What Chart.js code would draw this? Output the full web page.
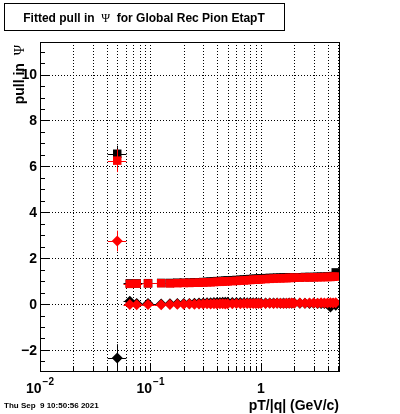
<!DOCTYPE html>
<html>
<head>
<meta charset="utf-8">
<title>Fitted pull in Psi</title>
<script src="https://cdn.jsdelivr.net/npm/chart.js@4.4.0/dist/chart.umd.min.js"></script>
<style>
    html, body { margin: 0; padding: 0; background: #fff; }
    canvas { display: block; }
</style>
</head>
<body>
<canvas id="chart" width="400" height="414"></canvas>
<script>
// Bin centres in pT/|q| (GeV/c)
const pT = [0.05, 0.065, 0.075, 0.095, 0.125, 0.15, 0.175, 0.2, 0.225, 0.25, 0.275, 0.3, 0.325, 0.35, 0.375, 0.4,
    0.425, 0.45, 0.475, 0.5, 0.55, 0.6, 0.65, 0.7, 0.75, 0.8, 0.85, 0.9, 0.95, 1.0, 1.1, 1.2, 1.3, 1.4, 1.5, 1.6,
    1.7, 1.8, 1.9, 2.0, 2.25, 2.5, 2.75, 3.0, 3.25, 3.5, 3.75, 4.0, 4.25, 4.5, 4.75];

// Fitted values
const blackSquares = [6.55, 0.90, 0.90, 0.91, 0.92, 0.92, 0.93, 0.93, 0.94, 0.95, 0.95, 0.96, 0.97, 0.98, 0.99, 1.00,
    1.00, 1.01, 1.02, 1.03, 1.04, 1.05, 1.06, 1.07, 1.08, 1.09, 1.10, 1.10, 1.11, 1.12, 1.13, 1.14, 1.14, 1.15, 1.15, 1.16,
    1.16, 1.16, 1.17, 1.17, 1.17, 1.18, 1.18, 1.18, 1.19, 1.19, 1.19, 1.20, 1.20, 1.22, 1.38];
const redSquares = [6.25, 0.88, 0.89, 0.90, 0.91, 0.90, 0.91, 0.92, 0.92, 0.93, 0.93, 0.94, 0.95, 0.95, 0.96, 0.97,
    0.97, 0.98, 0.99, 0.99, 1.00, 1.01, 1.02, 1.03, 1.04, 1.05, 1.06, 1.06, 1.07, 1.08, 1.09, 1.10, 1.11, 1.12, 1.12, 1.13,
    1.13, 1.14, 1.14, 1.15, 1.15, 1.16, 1.16, 1.17, 1.17, 1.17, 1.18, 1.18, 1.18, 1.19, 1.20];
const blackDiamonds = [-2.35, 0.12, 0.03, 0.02, 0.00, 0.01, 0.02, 0.03, 0.03, 0.04, 0.05, 0.05, 0.06, 0.06, 0.07, 0.07,
    0.07, 0.08, 0.08, 0.08, 0.07, 0.07, 0.07, 0.06, 0.06, 0.06, 0.06, 0.05, 0.05, 0.05, 0.05, 0.05, 0.05, 0.05, 0.04, 0.05,
    0.04, 0.05, 0.04, 0.05, 0.04, 0.04, 0.03, 0.04, 0.03, 0.03, 0.02, 0.00, -0.13, 0.02, -0.05];
const redDiamonds = [2.75, -0.02, -0.03, -0.02, -0.03, -0.02, -0.01, -0.01, 0.00, -0.01, 0.00, 0.00, 0.01, 0.00, 0.01, 0.00,
    0.01, 0.01, 0.00, 0.01, 0.01, 0.02, 0.01, 0.02, 0.02, 0.02, 0.03, 0.02, 0.03, 0.03, 0.03, 0.04, 0.03, 0.04, 0.04, 0.03,
    0.04, 0.04, 0.05, 0.04, 0.05, 0.04, 0.05, 0.05, 0.04, 0.06, 0.05, 0.05, 0.06, 0.05, 0.06];

// Only the first bin has errors large enough to see
const firstErrY = [0.35, 0.5, 0.6, 0.45];   // blackSq, redSq, blackDia, redDia
const firstBinEdges = [0.041, 0.0605];

// Axes
const yTicks = [-2, 0, 2, 4, 6, 8, 10];
const yTickLabels = ['\u22122', '0', '2', '4', '6', '8', '10'];
const xDecades = [0.01, 0.1, 1];
const xDecadeBase = ['10', '10', '1'];
const xDecadeExp = ['\u22122', '\u22121', ''];
const xMin = 0.01, xMax = 5.19, yMin = -2.96, yMax = 11.42;

const titleParts = [['Fitted pull in  ', 'sans'], ['\u03A8', 'serif'], ['  for Global Rec Pion EtapT', 'sans']];
const yTitleParts = [['pull in  ', 'sans'], ['\u03A8', 'serif']];
const xTitle = 'pT/|q| (GeV/c)';
const dateStamp = 'Thu Sep  9 10:50:56 2021';

const SANS = '"Liberation Sans", Arial, sans-serif';
const SERIF = '"Liberation Serif", "DejaVu Serif", serif';

function toPoints(values) {
    return values.map((v, i) => ({ x: pT[i], y: v }));
}

// bin edges: first bin explicit, the others half way (in log) to the neighbours
function binEdges(i) {
    if (i === 0) return firstBinEdges;
    const lo = Math.sqrt(pT[i - 1] * pT[i]);
    const hi = i < pT.length - 1 ? Math.sqrt(pT[i] * pT[i + 1]) : pT[i] * pT[i] / lo;
    return [lo, hi];
}

function partsWidth(ctx, parts, size) {
    let w = 0;
    parts.forEach(p => {
        ctx.font = (p[1] === 'sans' ? 'bold ' + size + 'px ' + SANS : size + 'px ' + SERIF);
        w += ctx.measureText(p[0]).width;
    });
    return w;
}

function fillParts(ctx, parts, size, x, y) {
    let cx = x;
    parts.forEach(p => {
        ctx.font = (p[1] === 'sans' ? 'bold ' + size + 'px ' + SANS : size + 'px ' + SERIF);
        ctx.fillText(p[0], cx, y);
        cx += ctx.measureText(p[0]).width;
    });
}

const rootStyle = {
    id: 'rootStyle',
    beforeDraw(chart) {
        const ctx = chart.ctx;
        ctx.save();
        ctx.fillStyle = '#fff';
        ctx.fillRect(0, 0, chart.width, chart.height);
        ctx.restore();
    },
    beforeDatasetsDraw(chart) {
        const { ctx, chartArea: a, scales: { x, y } } = chart;
        ctx.save();
        ctx.strokeStyle = '#000';
        ctx.lineWidth = 1;
        ctx.setLineDash([1, 2]);
        // vertical grid at every log tick
        xDecades.forEach(d => {
            for (let m = 1; m <= 9; m++) {
                const v = d * m;
                if (v <= xMin || v >= xMax) continue;
                const px = Math.round(x.getPixelForValue(v)) + 0.5;
                ctx.beginPath();
                ctx.moveTo(px, a.top);
                ctx.lineTo(px, a.bottom);
                ctx.stroke();
            }
        });
        yTicks.forEach(t => {
            const py = Math.round(y.getPixelForValue(t)) + 0.5;
            ctx.beginPath();
            ctx.moveTo(a.left, py);
            ctx.lineTo(a.right, py);
            ctx.stroke();
        });
        ctx.restore();
    },
    beforeDatasetDraw(chart, args) {
        const { ctx, chartArea: a, scales: { x, y } } = chart;
        const ds = chart.data.datasets[args.index];
        ctx.save();
        ctx.beginPath();
        ctx.rect(a.left, a.top, a.right - a.left, a.bottom - a.top);
        ctx.clip();
        ctx.strokeStyle = ds.borderColor;
        ctx.lineWidth = 1;
        ds.data.forEach((p, i) => {
            const e = binEdges(i);
            const py = Math.round(y.getPixelForValue(p.y)) + 0.5;
            ctx.beginPath();
            ctx.moveTo(x.getPixelForValue(e[0]), py);
            ctx.lineTo(x.getPixelForValue(e[1]), py);
            ctx.stroke();
            if (i === 0) {
                const px = Math.round(x.getPixelForValue(p.x)) + 0.5;
                ctx.beginPath();
                ctx.moveTo(px, y.getPixelForValue(p.y - ds.errY));
                ctx.lineTo(px, y.getPixelForValue(p.y + ds.errY));
                ctx.stroke();
            }
        });
        ctx.restore();
    },
    afterDatasetsDraw(chart) {
        const { ctx, chartArea: a, scales: { x, y } } = chart;
        ctx.save();
        ctx.strokeStyle = '#000';
        ctx.fillStyle = '#000';
        ctx.lineWidth = 1;

        // frame
        ctx.strokeRect(a.left + 0.5, a.top + 0.5, a.right - a.left - 1, a.bottom - a.top - 1);

        // y ticks
        ctx.beginPath();
        for (let k = -6; k <= 22; k++) {
            const v = k * 0.5;
            if (v <= yMin || v >= yMax) continue;
            const py = Math.round(y.getPixelForValue(v)) + 0.5;
            const len = (k % 4 === 0) ? 9 : 5;
            ctx.moveTo(a.left, py);
            ctx.lineTo(a.left + len, py);
        }
        // x ticks
        xDecades.forEach(d => {
            for (let m = 1; m <= 9; m++) {
                const v = d * m;
                if (v > xMax) continue;
                const px = Math.round(x.getPixelForValue(v)) + 0.5;
                const len = m === 1 ? 9 : 5;
                ctx.moveTo(px, a.bottom);
                ctx.lineTo(px, a.bottom - len);
            }
        });
        ctx.stroke();

        // y tick labels
        ctx.font = 'bold 14px ' + SANS;
        ctx.textAlign = 'right';
        ctx.textBaseline = 'middle';
        yTicks.forEach((t, i) => {
            ctx.fillText(yTickLabels[i], a.left - 3, y.getPixelForValue(t) + 1);
        });

        // x tick labels with superscript exponents
        ctx.textBaseline = 'alphabetic';
        ctx.textAlign = 'left';
        xDecades.forEach((d, i) => {
            ctx.font = 'bold 14px ' + SANS;
            const wb = ctx.measureText(xDecadeBase[i]).width;
            ctx.font = 'bold 10px ' + SANS;
            const we = xDecadeExp[i] ? ctx.measureText(xDecadeExp[i]).width + 1 : 0;
            const px = x.getPixelForValue(d);
            const x0 = px - (wb + we) / 2;
            ctx.font = 'bold 14px ' + SANS;
            ctx.fillText(xDecadeBase[i], x0, 393);
            if (xDecadeExp[i]) {
                ctx.font = 'bold 10px ' + SANS;
                ctx.fillText(xDecadeExp[i], x0 + wb + 1, 385);
            }
        });

        // x axis title
        ctx.font = 'bold 14px ' + SANS;
        ctx.textAlign = 'right';
        ctx.fillText(xTitle, a.right - 1, 410);

        // y axis title, rotated, right-aligned at the top
        ctx.textAlign = 'left';
        const wy = partsWidth(ctx, yTitleParts, 14);
        ctx.save();
        ctx.translate(24, a.top + 3 + wy);
        ctx.rotate(-Math.PI / 2);
        fillParts(ctx, yTitleParts, 14, 0, 0);
        ctx.restore();

        // date stamp
        ctx.font = 'bold 8px ' + SANS;
        ctx.fillText(dateStamp, 4, 408);

        // title box
        ctx.fillStyle = '#fff';
        ctx.fillRect(4, 3, 281, 27);
        ctx.strokeRect(4.5, 3.5, 280, 27);
        ctx.fillStyle = '#000';
        const wt = partsWidth(ctx, titleParts, 12);
        fillParts(ctx, titleParts, 12, 144 - wt / 2, 22);

        ctx.restore();
    }
};

function makeSet(label, values, color, style, radius, order, errY) {
    return {
        label: label,
        data: toPoints(values),
        borderColor: color,
        backgroundColor: color,
        pointStyle: style,
        pointRadius: radius,
        pointBorderWidth: 0,
        showLine: false,
        order: order,
        errY: errY
    };
}

new Chart(document.getElementById('chart'), {
    type: 'scatter',
    data: {
        datasets: [
            makeSet('black squares', blackSquares, '#000000', 'rect', 6, 4, firstErrY[0]),
            makeSet('red squares', redSquares, '#ff0000', 'rect', 6, 3, firstErrY[1]),
            makeSet('black diamonds', blackDiamonds, '#000000', 'rectRot', 5.5, 2, firstErrY[2]),
            makeSet('red diamonds', redDiamonds, '#ff0000', 'rectRot', 5.5, 1, firstErrY[3])
        ]
    },
    options: {
        responsive: false,
        animation: false,
        devicePixelRatio: 1,
        layout: { padding: { left: 40, top: 42, right: 60, bottom: 42 } },
        scales: {
            x: { type: 'logarithmic', min: xMin, max: xMax, display: false },
            y: { type: 'linear', min: yMin, max: yMax, display: false }
        },
        plugins: {
            legend: { display: false },
            tooltip: { enabled: false }
        }
    },
    plugins: [rootStyle]
});
</script>
</body>
</html>
